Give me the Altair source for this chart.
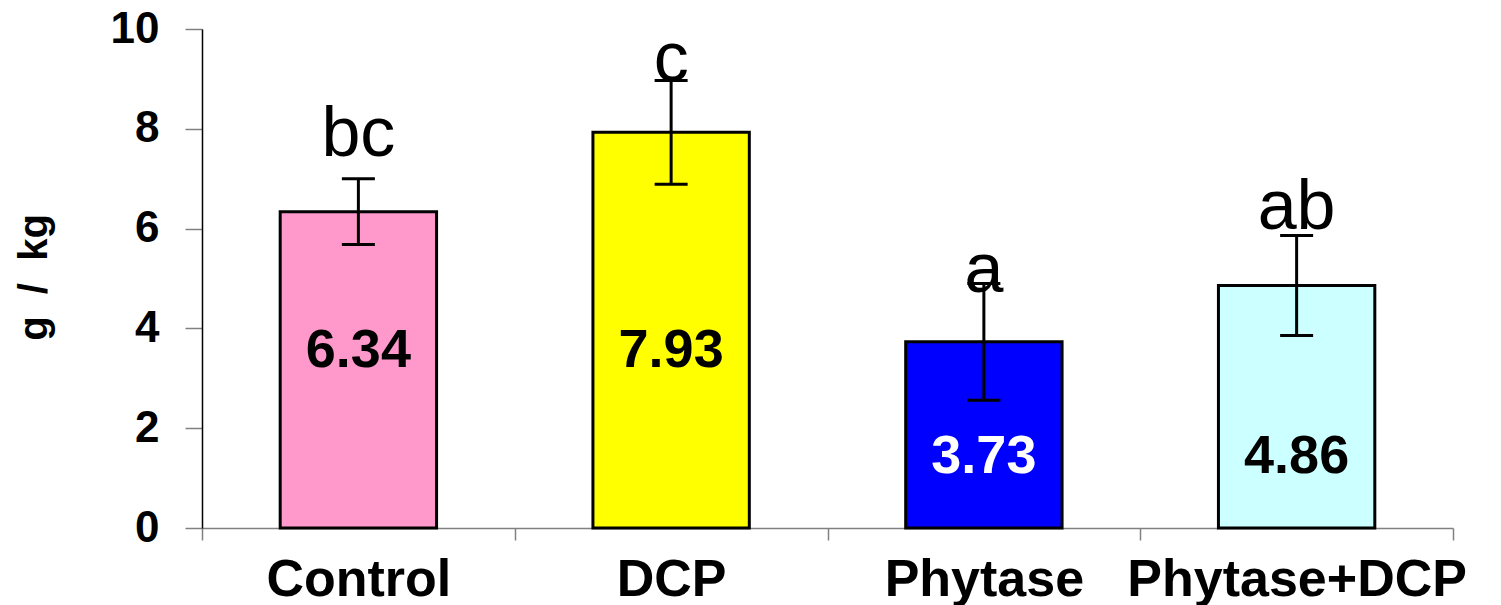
import altair as alt
import pandas as pd

categories = ["Control", "DCP", "Phytase", "Phytase+DCP"]
means = [6.34, 7.93, 3.73, 4.86]
errors = [0.66, 1.04, 1.17, 1.0]
letters = ["bc", "c", "a", "ab"]
letter_y = [7.45, 8.95, 4.72, 6.0]
value_labels = ["6.34", "7.93", "3.73", "4.86"]
value_label_y = [3.22, 3.22, 1.10, 1.10]
bar_colors = ["#FF99CC", "#FFFF00", "#0000FF", "#CCFFFF"]
value_label_colors = ["#000000", "#000000", "#FFFFFF", "#000000"]
y_ticks = [0, 2, 4, 6, 8, 10]

df = pd.DataFrame({
    "category": categories,
    "mean": means,
    "err": errors,
    "letter": letters,
    "ly": letter_y,
    "vlabel": value_labels,
    "vy": value_label_y,
    "vcolor": value_label_colors,
})
df["lo"] = df["mean"] - df["err"]
df["hi"] = df["mean"] + df["err"]

FONT = "Liberation Sans"

x_axis = alt.Axis(
    title=None, tickBand="extent", labelAngle=0, labelFont=FONT,
    labelFontWeight="bold", labelFontSize=52, labelColor="black",
    labelLimit=0, tickColor="#808080", tickSize=12, tickWidth=1.5,
    domainColor="#808080", domainWidth=1.5, labelPadding=14,
)
x_scale = alt.Scale(domain=categories, paddingInner=0, paddingOuter=0)

y_axis = alt.Axis(
    values=y_ticks, title="g\u00a0\u00a0/\u00a0\u00a0kg", titleFont=FONT,
    titleFontSize=40, titleFontWeight="bold", titleColor="black",
    titleX=-156, titleY=248, titleBaseline="alphabetic", titleAngle=270,
    labelFont=FONT, labelFontSize=44, labelFontWeight="bold",
    labelColor="black", tickSize=17, tickColor="#808080", tickWidth=1.5,
    domainColor="black", domainWidth=1.5, labelPadding=26, grid=False,
)
y_scale = alt.Scale(domain=[0, 10], nice=False, zero=True)


def X():
    return alt.X("category:N", sort=categories, scale=x_scale, axis=x_axis)


def Y(field):
    return alt.Y(field, type="quantitative", scale=y_scale, axis=y_axis)


base = alt.Chart(df)

bars = base.mark_bar(
    width=alt.RelativeBandSize(0.5), stroke="black", strokeWidth=3
).encode(
    x=X(), y=Y("mean"),
    color=alt.Color("category:N", scale=alt.Scale(domain=categories, range=bar_colors), legend=None),
)

stems = base.mark_rule(color="black", strokeWidth=3).encode(
    x=X(), y=Y("lo"), y2="hi"
)
cap_hi = base.mark_tick(color="black", size=33, thickness=3, opacity=1).encode(x=X(), y=Y("hi"))
cap_lo = base.mark_tick(color="black", size=33, thickness=3, opacity=1).encode(x=X(), y=Y("lo"))

letter_text = base.mark_text(
    font=FONT, fontSize=70, baseline="alphabetic", align="center", color="black"
).encode(x=X(), y=Y("ly"), text="letter:N")

value_text = base.mark_text(
    font=FONT, fontSize=54, fontWeight="bold", baseline="alphabetic", align="center"
).encode(x=X(), y=Y("vy"), text="vlabel:N", color=alt.Color("vcolor:N", scale=None))

chart = alt.layer(bars, stems, cap_hi, cap_lo, letter_text, value_text).properties(
    width=1251, height=499,
    autosize=alt.AutoSizeParams(type="none"),
    padding={"left": 194, "top": 21, "right": 40, "bottom": 80},
).configure_view(stroke=None)

chart.save("out.html", embed_options={"renderer": "svg", "actions": False})
